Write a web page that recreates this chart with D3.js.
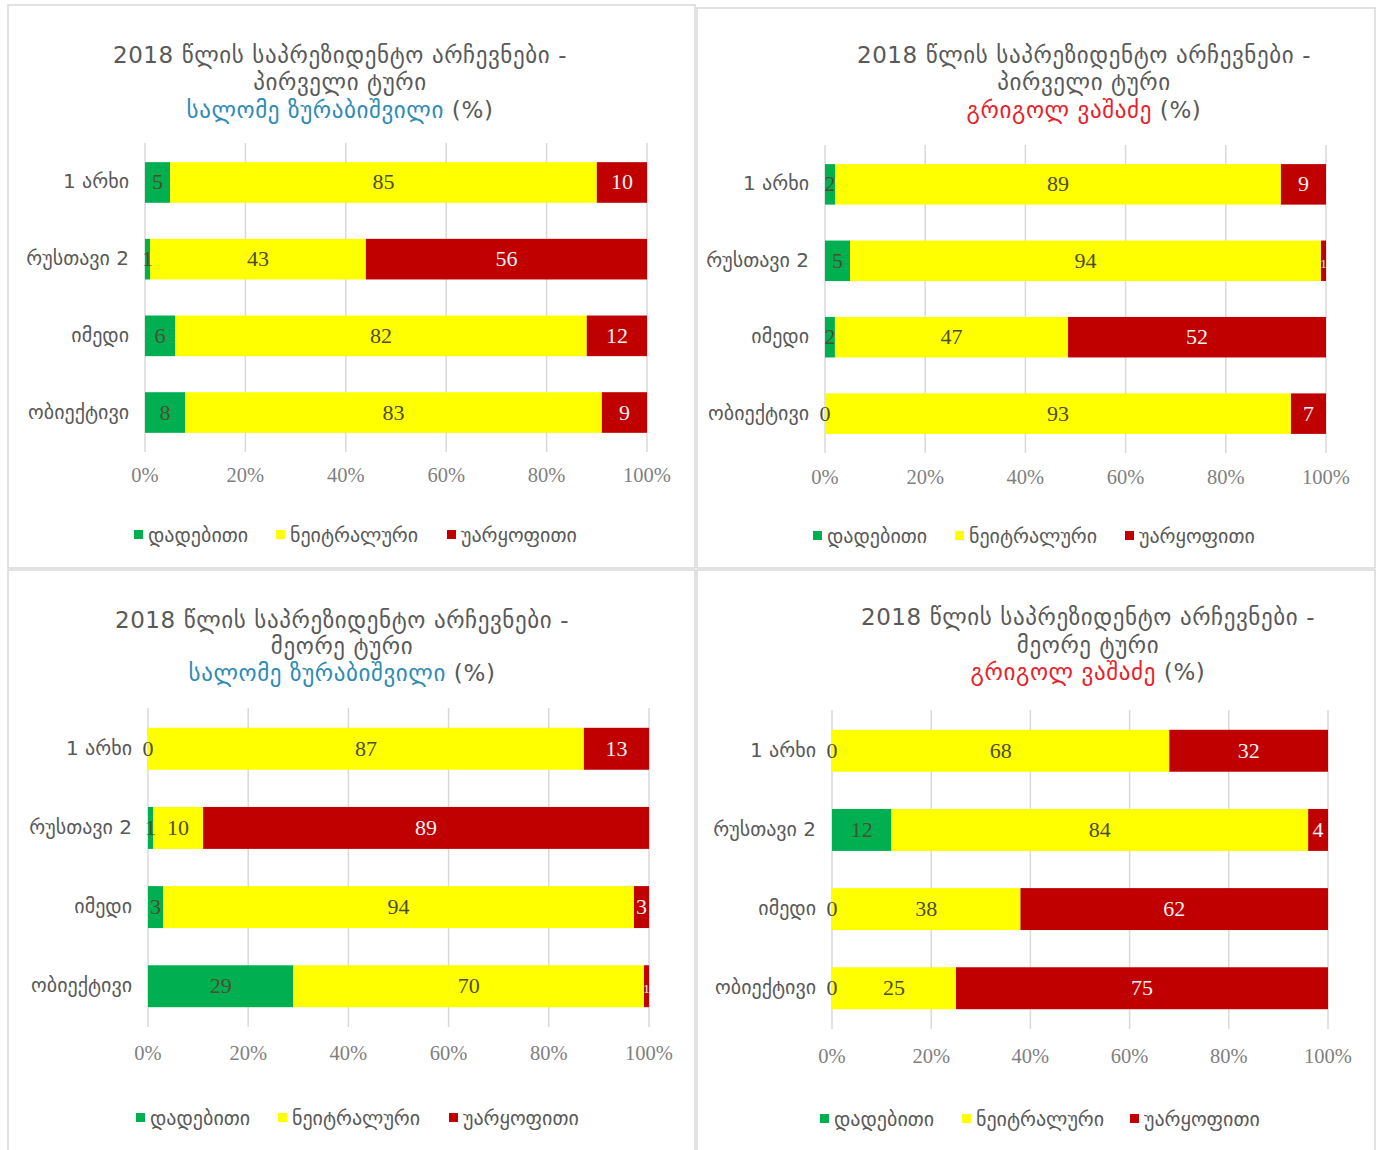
<!DOCTYPE html>
<html>
<head>
<meta charset="utf-8">
<script src="https://cdn.jsdelivr.net/npm/d3@7"></script>
<style>
  body { margin: 0; background: #fff; }
</style>
</head>
<body>
<svg id="chart" width="1379" height="1150" font-family="DejaVu Sans, sans-serif"></svg>
<script>
var categories = ["1 არხი", "რუსთავი 2", "იმედი", "ობიექტივი"];
var seriesNames = ["დადებითი", "ნეიტრალური", "უარყოფითი"];
var colors = ["#00b050", "#ffff00", "#c00000"];
var ticks = [0, 20, 40, 60, 80, 100];

var titleLine1 = "2018 წლის საპრეზიდენტო არჩევნები -";
var round1 = "პირველი ტური";
var round2 = "მეორე ტური";
var zurabishvili = "სალომე ზურაბიშვილი";
var vashadze = "გრიგოლ ვაშაძე";

// [positive, neutral, negative] per channel
var zur1 = [[5, 85, 10], [1, 43, 56], [6, 82, 12], [8, 83, 9]];
var vash1 = [[2, 89, 9], [5, 94, 1], [2, 47, 52], [0, 93, 7]];
var zur2 = [[0, 87, 13], [1, 10, 89], [3, 94, 3], [29, 70, 1]];
var vash2 = [[0, 68, 32], [12, 84, 4], [0, 38, 62], [0, 25, 75]];

var svg = d3.select("#chart");
var serif = "Liberation Serif, DejaVu Serif, serif";

var panels = [
  { box: [8, 5, 687, 563], x0: 145, x1: 647, y0: 143, y1: 452, title: [55, 82, 110], cx: 340,
    round: round1, name: zurabishvili, nameColor: "#2e8bb5", data: zur1, tickY: 482, legendY: 535, legendX: [134, 276, 447] },
  { box: [697, 8, 678, 560], x0: 825, x1: 1326, y0: 145, y1: 453, title: [55, 82, 110], cx: 1084,
    round: round1, name: vashadze, nameColor: "#e8202a", data: vash1, tickY: 484, legendY: 536, legendX: [813, 955, 1125] },
  { box: [8, 570, 687, 590], x0: 148, x1: 649, y0: 708, y1: 1027, title: [620, 646, 673], cx: 342,
    round: round2, name: zurabishvili, nameColor: "#2e8bb5", data: zur2, tickY: 1060, legendY: 1118, legendX: [136, 278, 449] },
  { box: [697, 570, 678, 590], x0: 832, x1: 1328, y0: 710, y1: 1029, title: [617, 645, 672], cx: 1088,
    round: round2, name: vashadze, nameColor: "#e8202a", data: vash2, tickY: 1063, legendY: 1119, legendX: [820, 962, 1130] }
];

panels.forEach(drawPanel);

function drawPanel(p) {
  var g = svg.append("g");

  g.append("rect")
    .attr("x", p.box[0]).attr("y", p.box[1])
    .attr("width", p.box[2]).attr("height", p.box[3])
    .attr("fill", "none").attr("stroke", "#d9d9d9").attr("stroke-width", 1.5);

  // title
  g.append("text").attr("x", p.cx).attr("y", p.title[0] + 8)
    .attr("text-anchor", "middle").attr("font-size", 23).attr("letter-spacing", 0.6).attr("fill", "#595959")
    .text(titleLine1);
  g.append("text").attr("x", p.cx).attr("y", p.title[1] + 8)
    .attr("text-anchor", "middle").attr("font-size", 23).attr("letter-spacing", 0.6).attr("fill", "#595959")
    .text(p.round);
  var t3 = g.append("text").attr("x", p.cx).attr("y", p.title[2] + 8)
    .attr("text-anchor", "middle").attr("font-size", 23).attr("letter-spacing", 0.6);
  t3.append("tspan").attr("fill", p.nameColor).text(p.name);
  t3.append("tspan").attr("fill", "#595959").text(" (%)");

  var x = d3.scaleLinear().domain([0, 100]).range([p.x0, p.x1]);
  var y = d3.scaleBand().domain(categories).range([p.y0, p.y1]).paddingInner(0.47).paddingOuter(0.25);

  // gridlines
  g.selectAll(".grid").data(ticks).enter().append("line")
    .attr("x1", function(d) { return x(d); }).attr("x2", function(d) { return x(d); })
    .attr("y1", p.y0).attr("y2", p.y1)
    .attr("stroke", "#d9d9d9").attr("stroke-width", 1.5);

  // tick labels
  g.selectAll(".tick").data(ticks).enter().append("text")
    .attr("x", function(d) { return x(d); }).attr("y", p.tickY)
    .attr("text-anchor", "middle").attr("font-size", 20.5)
    .attr("font-family", serif).attr("fill", "#7f7f7f")
    .text(function(d) { return d + "%"; });

  // category labels
  g.selectAll(".cat").data(categories).enter().append("text")
    .attr("x", p.x0 - 16).attr("y", function(d) { return y(d) + y.bandwidth() / 2 + 6; })
    .attr("text-anchor", "end").attr("font-size", 20).attr("fill", "#595959")
    .text(function(d) { return d; });

  // stacked bars
  var rows = p.data.map(function(vals, i) {
    var total = d3.sum(vals), acc = 0;
    return vals.map(function(v, k) {
      var seg = { cat: categories[i], k: k, v: v, start: acc / total * 100, end: (acc + v) / total * 100 };
      acc += v;
      return seg;
    });
  });
  var segs = d3.merge(rows);

  g.selectAll(".bar").data(segs).enter().append("rect")
    .attr("x", function(d) { return x(d.start); })
    .attr("y", function(d) { return y(d.cat); })
    .attr("width", function(d) { return x(d.end) - x(d.start); })
    .attr("height", y.bandwidth())
    .attr("fill", function(d) { return colors[d.k]; });

  g.selectAll(".val").data(segs).enter().append("text")
    .attr("x", function(d) { return x((d.start + d.end) / 2); })
    .attr("y", function(d) { return y(d.cat) + y.bandwidth() / 2 + 7; })
    .attr("text-anchor", "middle")
    .attr("font-family", serif)
    .attr("font-size", function(d) { return d.v <= 1 && d.k === 2 ? 13 : 22; })
    .attr("fill", function(d) { return d.k === 2 ? "#f2f2f2" : "#4d4d33"; })
    .text(function(d) { return d.v; });

  // legend
  var leg = g.selectAll(".leg").data(seriesNames).enter().append("g")
    .attr("transform", function(d, i) { return "translate(" + p.legendX[i] + "," + p.legendY + ")"; });
  leg.append("rect").attr("x", 0).attr("y", -5).attr("width", 9).attr("height", 9)
    .attr("fill", function(d, i) { return colors[i]; });
  leg.append("text").attr("x", 14).attr("y", 7).attr("font-size", 20).attr("fill", "#595959")
    .text(function(d) { return d; });
}
</script>
</body>
</html>
